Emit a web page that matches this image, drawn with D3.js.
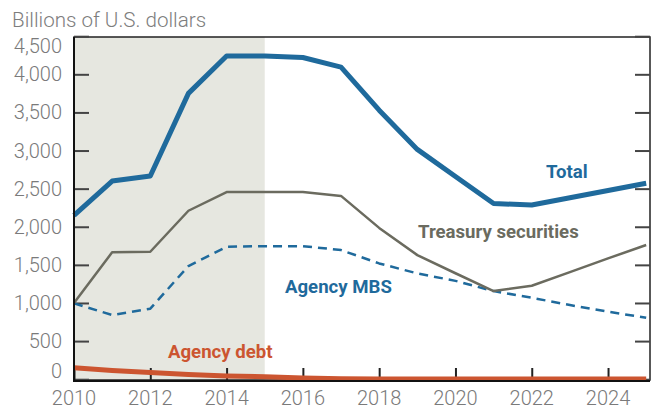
<!DOCTYPE html>
<html>
<head>
<meta charset="utf-8">
<script src="https://cdn.jsdelivr.net/npm/d3@7"></script>
<style>
  body { margin: 0; background: #fff; }
  text { font-family: Roboto, "Noto Sans", sans-serif; }
</style>
</head>
<body>
<div id="chart"></div>
<script>
// Data (billions of U.S. dollars)
const years = [2010, 2011, 2012, 2013, 2014, 2015, 2016, 2017, 2018, 2019, 2020, 2021, 2022, 2023, 2024, 2025]
const total = [2150, 2600, 2665, 3750, 4240, 4240, 4220, 4095, 3530, 3015, 2660, 2305, 2285, 2380, 2475, 2570]
const treasury = [1000, 1665, 1672, 2210, 2455, 2455, 2455, 2405, 1985, 1628, 1390, 1156, 1226, 1405, 1585, 1760]
const agencyMbs = [995, 842, 925, 1485, 1738, 1745, 1746, 1694, 1519, 1388, 1290, 1156, 1068, 973, 885, 806]
const agencyDebt = [150, 115, 88, 63, 42, 32, 15, 5, 2, 2, 2, 2, 2, 2, 2, 2]
const yTicks = [0, 500, 1000, 1500, 2000, 2500, 3000, 3500, 4000, 4500]
const xTicks = [2010, 2012, 2014, 2016, 2018, 2020, 2022, 2024]
const shadedYears = [2010, 2015]

const size = { width: 651, height: 412 }
const margin = { top: 37, right: 1, bottom: 32, left: 74 }

let width = size.width - margin.left - margin.right
let height = size.height - margin.top - margin.bottom

let x = d3.scaleLinear()
  .domain([2010, 2025.1])
  .range([0, width])
let y = d3.scaleLinear()
  .domain([0, 4500])
  .range([342.2, -0.8])

let svg = d3.select('#chart').append('svg')
  .attr('width', size.width)
  .attr('height', size.height)

// Title
svg.append('text')
  .attr('x', 12)
  .attr('y', 27)
  .attr('fill', '#7d7d7d')
  .attr('font-size', 20.6)
  .attr('font-weight', 300)
  .text('Billions of U.S. dollars')

let g = svg.append('g')
  .attr('transform', `translate(${margin.left}, ${margin.top})`)

// Shaded period
g.append('rect')
  .attr('x', x(shadedYears[0]))
  .attr('y', 0)
  .attr('width', x(shadedYears[1]) - x(shadedYears[0]))
  .attr('height', height)
  .attr('fill', '#e6e7e0')

// Frame
g.append('rect')
  .attr('x', 0)
  .attr('y', 0)
  .attr('width', width)
  .attr('height', height)
  .attr('fill', 'none')
  .attr('stroke', '#222')
  .attr('stroke-width', 1.5)

// Y ticks (inside, both sides)
let yAxisL = g.append('g')
  .call(d3.axisRight(y).tickValues(yTicks).tickSize(15).tickFormat(''))
yAxisL.select('.domain').remove()
yAxisL.selectAll('line').attr('stroke', '#444').attr('stroke-width', 2)

let yAxisR = g.append('g')
  .attr('transform', `translate(${width}, 0)`)
  .call(d3.axisLeft(y).tickValues(yTicks).tickSize(15).tickFormat(''))
yAxisR.select('.domain').remove()
yAxisR.selectAll('line').attr('stroke', '#444').attr('stroke-width', 2)

// Y labels (top and bottom nudged inward)
g.selectAll('.ylab')
  .data(yTicks)
  .enter()
  .append('text')
  .attr('class', 'ylab')
  .attr('x', -12)
  .attr('y', d => y(d) + (d === 0 ? -8 : d === 4500 ? 10 : 0))
  .attr('dy', '0.35em')
  .attr('text-anchor', 'end')
  .attr('fill', '#7a7a7a')
  .attr('font-size', 20)
  .attr('font-weight', 300)
  .text(d3.format(','))

// X ticks (inside)
let xAxis = g.append('g')
  .attr('transform', `translate(0, ${height})`)
  .call(d3.axisTop(x).tickValues(xTicks).tickSize(12).tickFormat(''))
xAxis.select('.domain').remove()
xAxis.selectAll('line').attr('stroke', '#222').attr('stroke-width', 2)

g.selectAll('.xlab')
  .data(xTicks)
  .enter()
  .append('text')
  .attr('class', 'xlab')
  .attr('x', d => x(d))
  .attr('y', height + 25)
  .attr('text-anchor', 'middle')
  .attr('fill', '#7a7a7a')
  .attr('font-size', 20)
  .attr('font-weight', 300)
  .text(d => d)

// Lines
let drawLine = function (values, stroke, strokeWidth, dash) {
  let line = d3.line()
    .x((d, i) => x(years[i]))
    .y(d => y(d))
  g.append('path')
    .datum(values)
    .attr('fill', 'none')
    .attr('stroke', stroke)
    .attr('stroke-width', strokeWidth)
    .attr('stroke-dasharray', dash)
    .attr('stroke-linejoin', 'round')
    .attr('d', line)
}

drawLine(agencyMbs, '#1f6a9c', 2.5, '9,6')
drawLine(treasury, '#6b6b5f', 2.5, null)
drawLine(total, '#1f6a9c', 5, null)
drawLine(agencyDebt, '#cc5530', 5, null)

// Bottom and left axis lines on top
g.append('line')
  .attr('x1', 0).attr('x2', width)
  .attr('y1', height + 1).attr('y2', height + 1)
  .attr('stroke', '#111')
  .attr('stroke-width', 2)
g.append('line')
  .attr('x1', 0).attr('x2', 0)
  .attr('y1', 0).attr('y2', height + 2)
  .attr('stroke', '#111')
  .attr('stroke-width', 2)

// Series labels
let label = function (text, lx, ly, color) {
  svg.append('text')
    .attr('x', lx)
    .attr('y', ly)
    .attr('fill', color)
    .attr('font-size', 18.6)
    .attr('font-weight', 700)
    .text(text)
}
label('Total', 546, 178, '#1f6a9c')
label('Treasury securities', 418, 238, '#6b6b5f')
label('Agency MBS', 285, 293, '#1f6a9c')
label('Agency debt', 168, 358, '#cc5530')
</script>
</body>
</html>
